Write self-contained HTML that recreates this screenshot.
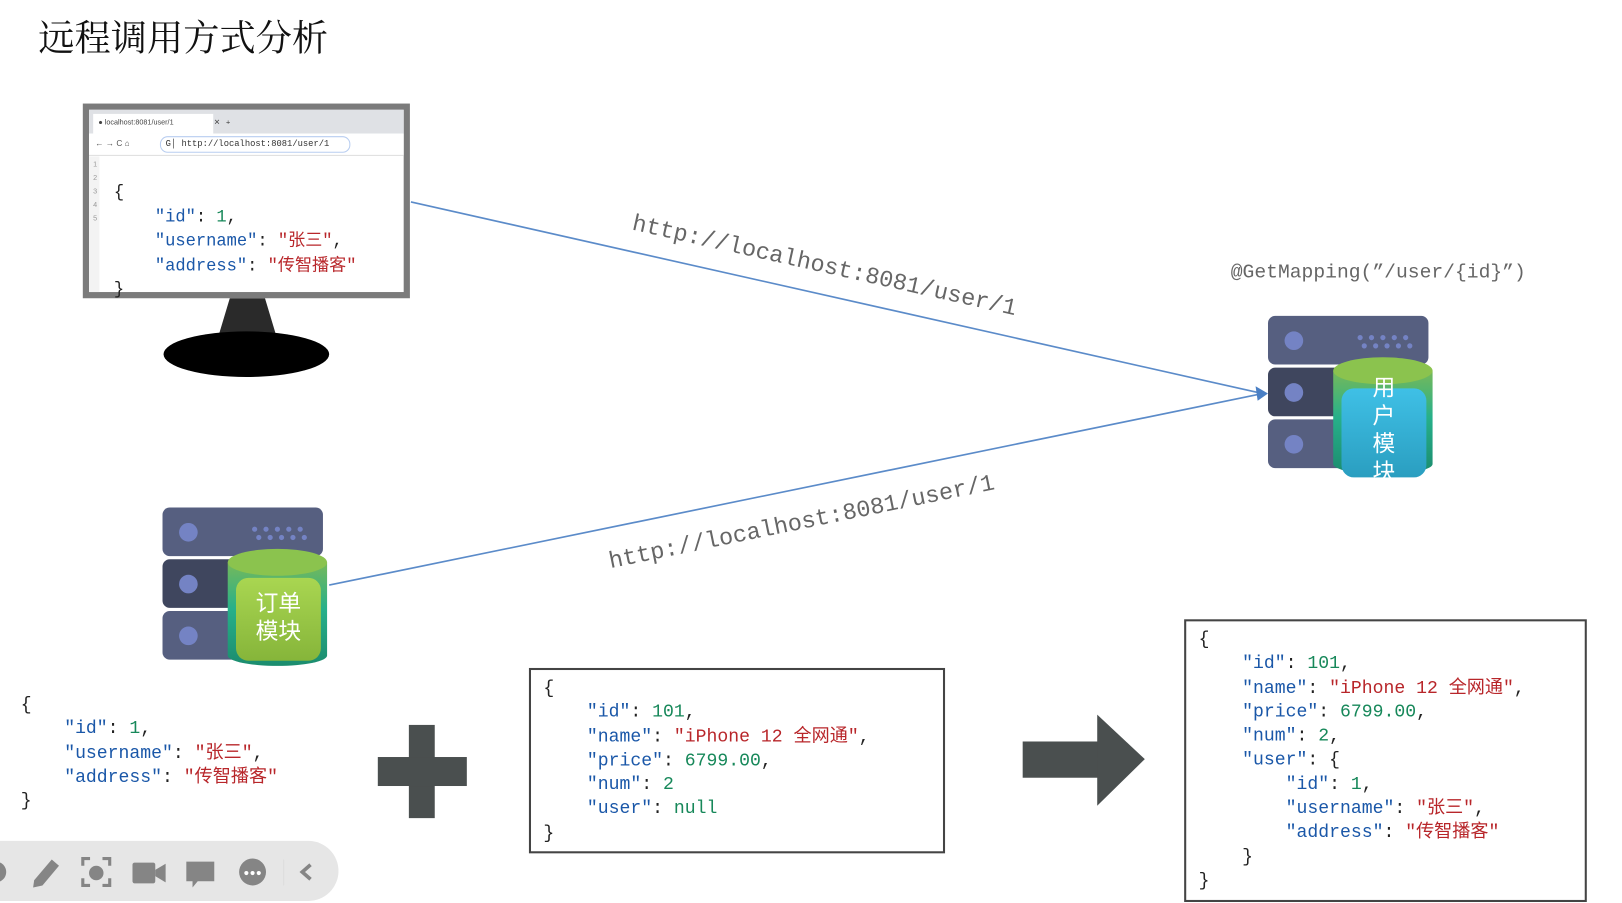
<!DOCTYPE html>
<html><head><meta charset="utf-8"><style>
html,body{margin:0;padding:0;background:#fff;width:1622px;height:903px;overflow:hidden}
#w{position:absolute;left:0;top:0;width:1567px;height:872px;transform:scale(1.0351,1.0356);transform-origin:0 0}
.a{position:absolute}
pre{margin:0;font-family:"Liberation Mono","Noto Sans CJK SC",monospace;font-size:17.5px;line-height:23.3px;color:#222}
.k{color:#1a57a8}.n{color:#17885a}.s{color:#b8262a}
.box{position:absolute;border:2px solid #444;background:#fff;box-sizing:border-box}
.u{font-family:'Liberation Mono','Noto Serif CJK SC',monospace;color:#666;white-space:nowrap}
</style></head><body><div id="w">
<div class="a" style="left:37px;top:10px;font-family:'Noto Serif CJK SC','Liberation Serif',serif;font-size:35px;color:#111">远程调用方式分析</div>

<svg class="a" style="left:0;top:0" width="1567" height="872">
<defs>
<linearGradient id="gb" x1="0" y1="0" x2="0" y2="1"><stop offset="0" stop-color="#3fc0e6"/><stop offset="1" stop-color="#2a9ec0"/></linearGradient>
<linearGradient id="gg" x1="0" y1="0" x2="0" y2="1"><stop offset="0" stop-color="#a9d651"/><stop offset="1" stop-color="#86b53a"/></linearGradient>
<linearGradient id="cyl" x1="0" y1="0" x2="0" y2="1"><stop offset="0" stop-color="#76b95a"/><stop offset=".45" stop-color="#27b08a"/><stop offset="1" stop-color="#1b8c6e"/></linearGradient>
</defs>
<polygon points="222,288 256,288 268,328 210,328" fill="#2a2a2a"/>
<ellipse cx="238" cy="342" rx="80" ry="22" fill="#000"/>
<rect x="80" y="100" width="316" height="188" fill="#7b7b7b"/>
<rect x="86" y="106" width="304" height="176" fill="#fff"/>
<rect x="86" y="106" width="304" height="23" fill="#dfe1e5"/>
<rect x="90" y="110" width="116" height="19" fill="#fff"/>
<rect x="86" y="129" width="304" height="21" fill="#fff"/>
<rect x="155" y="132" width="183" height="15" rx="7" fill="#fff" stroke="#b8cdf0"/>
<rect x="86" y="151" width="10" height="131" fill="#f3f3f3"/>
<line x1="86" y1="150" x2="390" y2="150" stroke="#ddd"/>
<line x1="397" y1="195" x2="1215" y2="379" stroke="#5b8bc9" stroke-width="1.6"/>
<line x1="318" y1="565" x2="1215" y2="381" stroke="#5b8bc9" stroke-width="1.6"/>
<polygon points="1225,380 1213,373 1215,387" fill="#4a7fc4"/>
<g>
<rect x="1225" y="305" width="155" height="47" rx="7" fill="#565f80"/>
<rect x="1225" y="355" width="155" height="47" rx="7" fill="#3f465e"/>
<rect x="1225" y="405" width="155" height="47" rx="7" fill="#565f80"/>
<circle cx="1250" cy="329" r="9" fill="#7483c4"/><circle cx="1250" cy="379" r="9" fill="#7483c4"/><circle cx="1250" cy="429" r="9" fill="#7483c4"/>
<g fill="#7483c4"><circle cx="1314" cy="326" r="2.5"/><circle cx="1325" cy="326" r="2.5"/><circle cx="1336" cy="326" r="2.5"/><circle cx="1347" cy="326" r="2.5"/><circle cx="1358" cy="326" r="2.5"/><circle cx="1318" cy="334" r="2.5"/><circle cx="1329" cy="334" r="2.5"/><circle cx="1340" cy="334" r="2.5"/><circle cx="1351" cy="334" r="2.5"/><circle cx="1362" cy="334" r="2.5"/></g>
<path d="M1288,358 L1288,448 A48,10 0 0 0 1384,448 L1384,358 Z" fill="url(#cyl)"/>
<ellipse cx="1336" cy="358" rx="48" ry="13" fill="#8bc34e"/>
<rect x="1296" y="375" width="82" height="86" rx="12" fill="url(#gb)"/>
</g>
<g>
<rect x="157" y="490" width="155" height="47" rx="7" fill="#565f80"/>
<rect x="157" y="540" width="155" height="47" rx="7" fill="#3f465e"/>
<rect x="157" y="590" width="155" height="47" rx="7" fill="#565f80"/>
<circle cx="182" cy="514" r="9" fill="#7483c4"/><circle cx="182" cy="564" r="9" fill="#7483c4"/><circle cx="182" cy="614" r="9" fill="#7483c4"/>
<g fill="#7483c4"><circle cx="246" cy="511" r="2.5"/><circle cx="257" cy="511" r="2.5"/><circle cx="268" cy="511" r="2.5"/><circle cx="279" cy="511" r="2.5"/><circle cx="290" cy="511" r="2.5"/><circle cx="250" cy="519" r="2.5"/><circle cx="261" cy="519" r="2.5"/><circle cx="272" cy="519" r="2.5"/><circle cx="283" cy="519" r="2.5"/><circle cx="294" cy="519" r="2.5"/></g>
<path d="M220,543 L220,633 A48,10 0 0 0 316,633 L316,543 Z" fill="url(#cyl)"/>
<ellipse cx="268" cy="543" rx="48" ry="13" fill="#8bc34e"/>
<rect x="228" y="558" width="82" height="80" rx="12" fill="url(#gg)"/>
</g>
<rect x="395" y="700" width="25" height="90" fill="#4a4f4f"/>
<rect x="365" y="731" width="86" height="28" fill="#4a4f4f"/>
<rect x="988" y="716" width="74" height="35" fill="#4a4f4f"/>
<polygon points="1060,690 1106,733 1060,778" fill="#4a4f4f"/>
<path d="M0,812 L298,812 A29,29 0 0 1 298,870 L0,870 Z" fill="#e6e6e6"/>
<g fill="#858585">
<circle cx="-4" cy="842" r="10"/>
<polygon points="33,850 50,830 57,836 41,855 32,857"/>
<rect x="86" y="836" width="14" height="14" rx="7"/>
<path d="M80,836v-7h7M106,836v-7h-7M80,848v7h7M106,848v7h-7" fill="none" stroke="#858585" stroke-width="3"/>
<rect x="128" y="833" width="22" height="20" rx="2"/><polygon points="150,840 160,834 160,852 150,846"/>
<path d="M180,832h27v19h-16l-5,6v-6h-6z"/>
<circle cx="244" cy="842" r="13"/>
<polyline points="300,835 292,842 300,849" fill="none" stroke="#858585" stroke-width="3.5"/>
</g>
<line x1="274" y1="830" x2="274" y2="855" stroke="#ddd"/>
<g fill="#fff"><circle cx="238" cy="843" r="2"/><circle cx="244" cy="843" r="2"/><circle cx="250" cy="843" r="2"/></g>
</svg>

<div class="a" style="left:95px;top:114px;font:7px 'Liberation Sans',sans-serif;color:#444">● localhost:8081/user/1 &nbsp;&nbsp;&nbsp;&nbsp;&nbsp;&nbsp;&nbsp;&nbsp;&nbsp;&nbsp;&nbsp;&nbsp;&nbsp;&nbsp;&nbsp;&nbsp;&nbsp;&nbsp;&nbsp;✕ &nbsp; +</div>
<div class="a" style="left:92px;top:134px;font:8px 'Liberation Sans',sans-serif;color:#555">← → C ⌂</div>
<div class="a" style="left:160px;top:134px;font:8.5px 'Liberation Mono',monospace;color:#333">G│ http://localhost:8081/user/1</div>
<div class="a" style="left:90px;top:153px;font:7px/13px 'Liberation Sans',sans-serif;color:#999">1<br>2<br>3<br>4<br>5</div>
<pre class="a" style="left:110px;top:174px;font-size:16.5px;line-height:23.5px">{
    <span class="k">"id"</span>: <span class="n">1</span>,
    <span class="k">"username"</span>: <span class="s">"张三"</span>,
    <span class="k">"address"</span>: <span class="s">"传智播客"</span>
}</pre>

<div class="a u" style="left:614px;top:203px;transform-origin:0 0;transform:rotate(12.6deg);font-size:22.6px">http://localhost:8081/user/1</div>
<div class="a u" style="left:586px;top:530px;transform-origin:0 0;transform:rotate(-11.6deg);font-size:22.6px">http://localhost:8081/user/1</div>
<div class="a u" style="left:1189px;top:252px;font-size:19px">@GetMapping(”/user/{id}”)</div>

<div class="a" style="left:1322px;top:360px;width:30px;font:22px/27px 'Noto Sans CJK SC',sans-serif;color:#fff;text-align:center">用<br>户<br>模<br>块</div>
<div class="a" style="left:240px;top:568px;width:58px;font:22px/27px 'Noto Sans CJK SC',sans-serif;color:#fff;text-align:center">订单<br>模块</div>

<pre class="a" style="left:20px;top:670px">{
    <span class="k">"id"</span>: <span class="n">1</span>,
    <span class="k">"username"</span>: <span class="s">"张三"</span>,
    <span class="k">"address"</span>: <span class="s">"传智播客"</span>
}</pre>

<div class="box" style="left:511px;top:645px;width:402px;height:179px"></div>
<pre class="a" style="left:525px;top:654px">{
    <span class="k">"id"</span>: <span class="n">101</span>,
    <span class="k">"name"</span>: <span class="s">"iPhone 12 全网通"</span>,
    <span class="k">"price"</span>: <span class="n">6799.00</span>,
    <span class="k">"num"</span>: <span class="n">2</span>
    <span class="k">"user"</span>: <span class="n">null</span>
}</pre>

<div class="box" style="left:1144px;top:598px;width:389px;height:273px"></div>
<pre class="a" style="left:1158px;top:607px">{
    <span class="k">"id"</span>: <span class="n">101</span>,
    <span class="k">"name"</span>: <span class="s">"iPhone 12 全网通"</span>,
    <span class="k">"price"</span>: <span class="n">6799.00</span>,
    <span class="k">"num"</span>: <span class="n">2</span>,
    <span class="k">"user"</span>: {
        <span class="k">"id"</span>: <span class="n">1</span>,
        <span class="k">"username"</span>: <span class="s">"张三"</span>,
        <span class="k">"address"</span>: <span class="s">"传智播客"</span>
    }
}</pre>
</div></body></html>
